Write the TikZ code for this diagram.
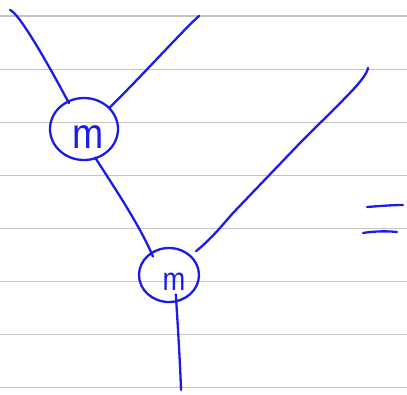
\documentclass[tikz,border=0pt]{standalone}
\usepackage{fontspec}
\setmainfont{Liberation Sans}
\usetikzlibrary{shapes.geometric}
\definecolor{ink}{RGB}{28,28,232}
\definecolor{rule}{RGB}{196,196,196}
\tikzset{
  ruled/.style={draw=rule, line width=1.1pt},
  pen/.style={draw=ink, line width=2.3pt, line cap=round, line join=round},
  ball/.style={shape=ellipse, pen, inner sep=0pt},
  mlab/.style={text=ink, inner sep=0pt},
}
\begin{document}
\begin{tikzpicture}[x=1pt,y=-1pt]
\useasboundingbox (0,0) rectangle (407,394);
% ruled paper
\foreach \k in {0,...,7}{
  \draw[ruled] (0,{16+53.05*\k}) -- (407,{16+53.05*\k});
}
% vertices
\node[ball, minimum width=68pt, minimum height=62pt,
      label={[mlab, xshift=4pt, yshift=-8pt]center:{\fontsize{34}{34}\selectfont\scalebox{1.1}[1.25]{m}}}]
      (m1) at (84,129) {};
\node[ball, minimum width=60pt, minimum height=54pt,
      label={[mlab, xshift=5pt, yshift=-7pt]center:{\fontsize{26}{26}\selectfont\scalebox{1.05}[1.25]{m}}}]
      (m2) at (169,275) {};
% free ends
\coordinate (a) at (10,10);
\coordinate (b) at (199,16);
\coordinate (c) at (368,68);
\coordinate (out) at (181,390);
\coordinate (c1) at (300,143);
\coordinate (c2) at (233,213);
% connectors
\draw[pen, shorten >=-3pt] (a) .. controls (19,13) and (47,62) .. (m1.120);
\draw[pen] (b) .. controls (186,27) and (140,78) .. (m1.40);
\draw[pen, shorten <=-2pt, shorten >=-5pt] (m1.-68) .. controls (116,190) and (140,226) .. (m2.128);
\draw[pen] (c) .. controls (366,79) and (345,98) .. (c1) -- (c2)
      .. controls (220,228) and (210,240) .. ([shift={(5,-4)}]m2.42);
\draw[pen, shorten <=-8pt] (m2.-75) .. controls (178,330) and (180,360) .. (out);
% equals sign
\coordinate (e1) at (367,207);
\coordinate (e2) at (403,205);
\coordinate (e3) at (363,233);
\coordinate (e4) at (397,232);
\draw[pen] (e1) .. controls (380,206) and (392,205) .. (e2);
\draw[pen] (e3) .. controls (375,231) and (388,231) .. (e4);
\end{tikzpicture}
\end{document}
